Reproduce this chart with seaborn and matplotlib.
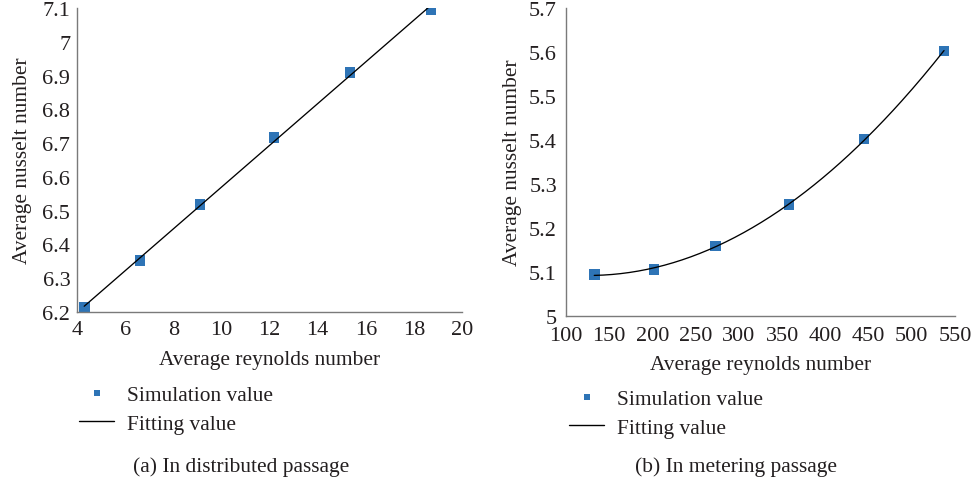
import numpy as np
import matplotlib
matplotlib.use("Agg")
import matplotlib.pyplot as plt
from matplotlib.lines import Line2D
from matplotlib.ticker import FuncFormatter
import seaborn as sns

# Distributed passage: simulated Nusselt number vs Reynolds number
re_dist = [4.30, 6.62, 9.11, 12.19, 15.35, 18.71]
nu_dist = [6.213, 6.353, 6.519, 6.717, 6.908, 7.095]

# Metering passage
re_meter = [132.7, 201.7, 272.6, 358.1, 444.8, 537.3]
nu_meter = [5.094, 5.106, 5.159, 5.253, 5.402, 5.602]

xticks_dist = [4, 6, 8, 10, 12, 14, 16, 18, 20]
yticks_dist = [6.2, 6.3, 6.4, 6.5, 6.6, 6.7, 6.8, 6.9, 7.0, 7.1]
xticks_meter = [100, 150, 200, 250, 300, 350, 400, 450, 500, 550]
yticks_meter = [5.0, 5.1, 5.2, 5.3, 5.4, 5.5, 5.6, 5.7]

captions = ["(a) In distributed passage", "(b) In metering passage"]
x_label = "Average reynolds number"
y_label = "Average nusselt number"
legend_labels = ["Simulation value", "Fitting value"]

sns.set_style("white")
plt.rcParams["font.family"] = ["Liberation Serif", "DejaVu Serif"]
plt.rcParams["text.color"] = "#231f20"
plt.rcParams["axes.labelcolor"] = "#231f20"
plt.rcParams["xtick.color"] = "#231f20"
plt.rcParams["ytick.color"] = "#231f20"

BLUE = "#2e74b6"
SPINE = "#7a7a7a"
FS = 15.4      # labels, legend, captions
TFS = 16       # tick labels

W, H = 974, 485
fig = plt.figure(figsize=(W / 100, H / 100), dpi=100)

def px_axes(l, t, r, b):
    return fig.add_axes([l / W, 1 - b / H, (r - l) / W, (b - t) / H])

ax_a = px_axes(77, 9, 462, 313)
ax_b = px_axes(566, 9, 955, 317)

# per-panel: axes, data, fit degree, ticks, y-tick pad, x-tick pad, y-label pad, x-label pad
panels = [
    (ax_a, re_dist, nu_dist, 1, xticks_dist, yticks_dist, 1.8, 5.5, 7.5, 8.5),
    (ax_b, re_meter, nu_meter, 2, xticks_meter, yticks_meter, 3.5, 7.0, 4.8, 7.5),
]

for ax, xs, ys, deg, xt, yt, ypad, xpad, ylpad, xlpad in panels:
    coef = np.polyfit(xs, ys, deg)
    xf = np.linspace(xs[0], xs[-1], 200)
    yf = np.polyval(coef, xf)
    sns.lineplot(x=xf, y=yf, color="black", linewidth=0.95, ax=ax, zorder=3)
    sns.scatterplot(x=xs, y=ys, marker="s", s=60, color=BLUE,
                    edgecolor="none", linewidth=0, ax=ax, zorder=2)
    ax.set_xlim(xt[0], xt[-1])
    ax.set_ylim(yt[0], yt[-1])
    ax.set_xticks(xt)
    ax.set_yticks(yt)
    ax.yaxis.set_major_formatter(FuncFormatter(lambda v, p: f"{v:g}"))
    for side in ("top", "right"):
        ax.spines[side].set_visible(False)
    for side in ("left", "bottom"):
        ax.spines[side].set_color(SPINE)
        ax.spines[side].set_linewidth(1.0)
    ax.tick_params(axis="x", direction="in", length=4, width=1.0,
                   color=SPINE, labelsize=TFS, pad=xpad)
    ax.tick_params(axis="y", direction="out", length=3, width=1.0,
                   color=SPINE, labelsize=TFS, pad=ypad)
    ax.set_xlabel(x_label, fontsize=FS, labelpad=xlpad)
    ax.set_ylabel(y_label, fontsize=FS, labelpad=ylpad)
    if ax.get_legend():
        ax.get_legend().remove()

def add_legend(x_px, y_px):
    handles = [
        Line2D([], [], marker="s", linestyle="none", color=BLUE,
               markersize=4.5, markeredgewidth=0),
        Line2D([], [], color="black", linewidth=1.0),
    ]
    fig.legend(handles, legend_labels, loc="center left",
               bbox_to_anchor=(x_px / W, 1 - y_px / H),
               frameon=False, fontsize=FS, handlelength=1.65,
               handletextpad=0.6, labelspacing=0.42,
               borderpad=0, borderaxespad=0)

add_legend(79, 410.5)
add_legend(569, 414.5)

fig.text(241 / W, 1 - 467 / H, captions[0], ha="center", va="center", fontsize=FS)
fig.text(736 / W, 1 - 467 / H, captions[1], ha="center", va="center", fontsize=FS)

fig.savefig("out.png", dpi=100)
